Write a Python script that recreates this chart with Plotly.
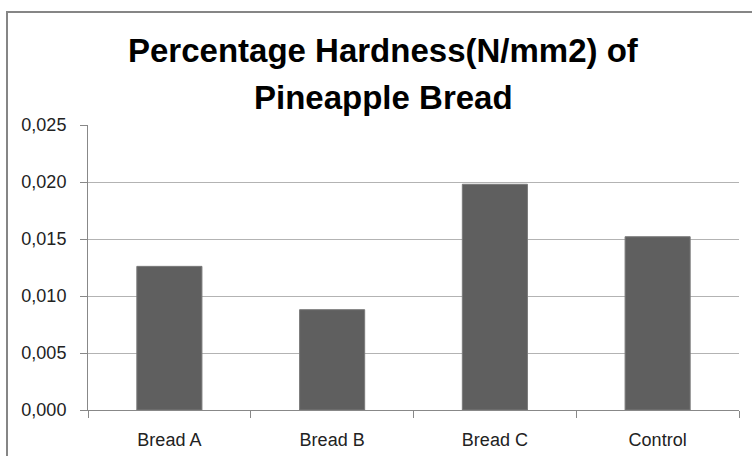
import plotly.graph_objects as go

categories = ["Bread A", "Bread B", "Bread C", "Control"]
hardness = [0.0126, 0.0088, 0.0198, 0.0152]
title_lines = ["Percentage Hardness(N/mm2) of", "Pineapple Bread"]
y_ticks = [0.000, 0.005, 0.010, 0.015, 0.020, 0.025]

W, H = 752, 456
ml, mr, mt, mb = 88, 13, 125, 46
pw, ph = W - ml - mr, H - mt - mb

fig = go.Figure(go.Bar(
    x=categories, y=hardness,
    marker=dict(color="#5f5f5f", line=dict(color="#7a7a7a", width=1)),
    hoverinfo="x+y",
))

title_centers = [50, 98]
annotations = [
    dict(text="<b>" + t + "</b>", xref="paper", yref="paper",
         x=(383 - ml) / pw, y=(H - mb - yc) / ph,
         xanchor="center", yanchor="middle", showarrow=False,
         font=dict(family="Liberation Sans, Arial, sans-serif", size=33, color="black"))
    for t, yc in zip(title_lines, title_centers)
]

fig.update_layout(
    width=W, height=H,
    margin=dict(l=ml, r=mr, t=mt, b=mb, autoexpand=False),
    paper_bgcolor="white", plot_bgcolor="white",
    separators=",.",
    bargap=0.6,
    showlegend=False,
    font=dict(family="Liberation Sans, Arial, sans-serif", color="#222222", size=18),
    annotations=annotations,
    xaxis=dict(
        automargin=False,
        showline=True, linecolor="#888888", linewidth=1,
        ticks="outside", ticklen=7, tickcolor="#888888", tickson="boundaries",
        ticklabelstandoff=13,
        showgrid=False, tickfont=dict(size=18, color="#222222"),
    ),
    yaxis=dict(
        automargin=False,
        range=[0, 0.025], tickvals=y_ticks, tickformat=".3f",
        showline=True, linecolor="#888888", linewidth=1,
        ticks="outside", ticklen=7, tickcolor="#888888",
        ticklabelstandoff=10,
        showgrid=True, gridcolor="#b3b3b3", gridwidth=1,
        zeroline=False, tickfont=dict(size=18, color="#222222"),
    ),
    shapes=[dict(
        type="rect", xref="paper", yref="paper",
        x0=(7 - ml) / pw, x1=(770 - ml) / pw,
        y0=(H - mb - 470) / ph, y1=(H - mb - 12) / ph,
        line=dict(color="#868686", width=2), fillcolor="rgba(0,0,0,0)", layer="below",
    )],
)

fig.write_html("out.html", config={"displayModeBar": False},
               post_script="document.body.style.margin='0';")
